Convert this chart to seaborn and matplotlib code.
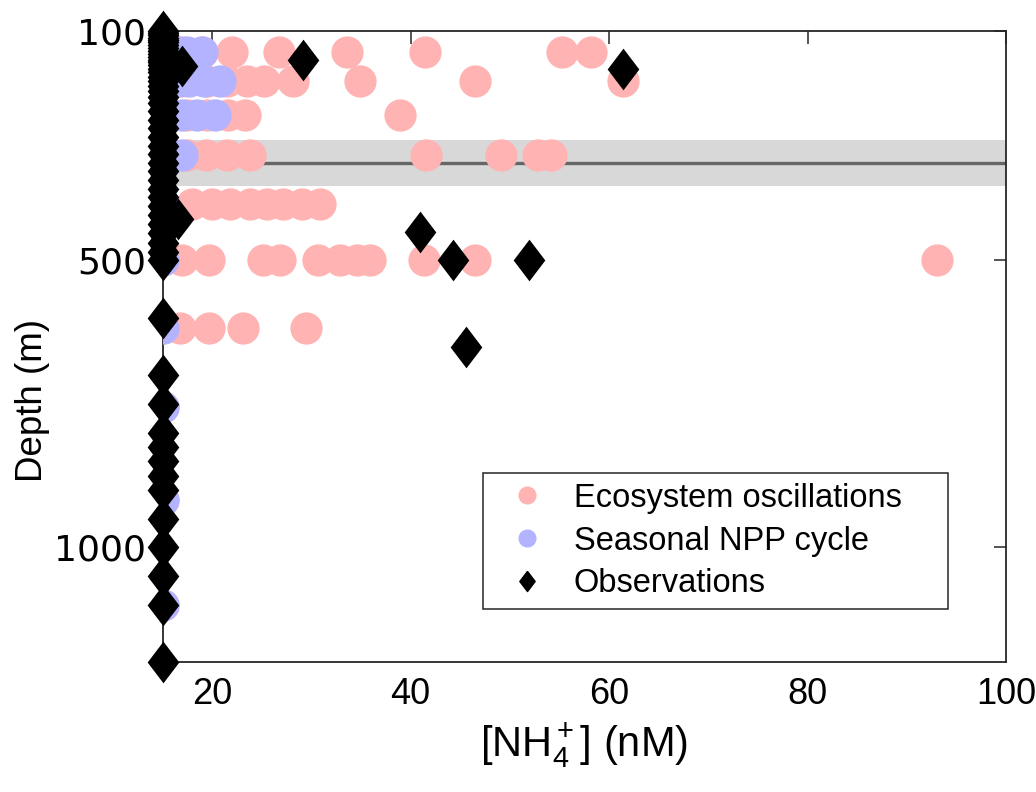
import numpy as np
import pandas as pd
import matplotlib
matplotlib.use("Agg")
import matplotlib.pyplot as plt
from matplotlib.lines import Line2D
import seaborn as sns

# Model output: ecosystem oscillations (pink), by depth level (m) -> [NH4+] (nM)
eco_depth = ([137] * 9 + [187] * 10 + [247] * 6 + [316] * 9 + [401] * 9
             + [500] * 12 + [618] * 5 + [755, 917, 1100])
eco_nh4 = ([15, 17, 19, 22.0, 26.7, 33.6, 41.4, 55.3, 58.2]
           + [15, 17, 19.5, 21.5, 23.5, 25.2, 28.1, 34.9, 46.5, 61.4]
           + [15, 17.5, 19.5, 21.6, 23.3, 38.9]
           + [15, 17.5, 19.4, 21.5, 23.8, 41.5, 49.1, 52.8, 54.1]
           + [15, 18, 20, 21.8, 23.8, 25.5, 27.1, 29, 30.9]
           + [15, 17, 19.7, 25.1, 26.8, 30.7, 32.9, 34.6, 35.9, 41.3, 46.5, 93.0]
           + [15, 16.7, 19.7, 23.1, 29.4]
           + [15, 15, 15])

# Model output: seasonal NPP cycle (blue)
npp_depth = ([137] * 4 + [187] * 5 + [247] * 4 + [316] * 2 + [401, 500]
             + [618, 755, 917, 1100])
npp_nh4 = ([15, 16.5, 17.5, 19]
           + [15, 16.5, 17.7, 19.2, 20.8]
           + [15, 17, 18.5, 20.3]
           + [15, 16.9] + [15, 15]
           + [15, 15, 15, 15])

# Observations (black diamonds)
obs_depth = [100, 104, 108, 112, 116, 120, 125, 130, 135, 140, 145, 150, 155,
             160, 166, 172, 180, 188, 196, 205, 215, 225, 240, 255, 270, 285,
             300, 315, 330, 345, 360, 375, 390, 405, 420, 437, 453, 470, 485,
             500, 600, 700, 750, 800, 825, 850, 875, 900, 950, 1000, 1050,
             1100, 1200,
             161, 151, 167, 427, 451, 500, 500, 651]
obs_nh4 = [15] * 53 + [17.0, 29.1, 61.4, 16.5, 40.9, 44.3, 51.9, 45.6]

# Shaded depth band and its centre line
band_depth = [290, 370]
band_mid = 330

x_ticks = [20, 40, 60, 80, 100]
y_ticks = [100, 500, 1000]

eco = pd.DataFrame({"nh4": eco_nh4, "depth": eco_depth})
npp = pd.DataFrame({"nh4": npp_nh4, "depth": npp_depth})
obs = pd.DataFrame({"nh4": obs_nh4, "depth": obs_depth})

sns.set_style("white")
plt.rcParams["font.family"] = ["Liberation Sans", "DejaVu Sans"]
plt.rcParams["mathtext.fontset"] = "custom"
plt.rcParams["mathtext.rm"] = "Liberation Sans"
plt.rcParams["mathtext.it"] = "Liberation Sans:italic"
for key in ["text.color", "axes.labelcolor", "xtick.labelcolor", "ytick.labelcolor"]:
    plt.rcParams[key] = "black"

pink = "#ffb3b3"
blue = "#b3b3ff"
edge = "#262626"
diamond = [(0, 1), (0.76, 0), (0, -1), (-0.76, 0), (0, 1)]

fig = plt.figure(figsize=(10.36, 7.92), dpi=100)
ax = fig.add_axes([0.157, 0.164, 0.814, 0.797])

ax.axhspan(band_depth[0], band_depth[1], color="#d8d8d8", lw=0, zorder=0)
ax.axhline(band_mid, color="#666666", lw=2.4, zorder=0.5)

sns.scatterplot(data=eco, x="nh4", y="depth", color=pink, s=540,
                linewidth=0, ax=ax, zorder=2)
sns.scatterplot(data=npp, x="nh4", y="depth", color=blue, s=540,
                linewidth=0, ax=ax, zorder=3)
sns.scatterplot(data=obs, x="nh4", y="depth", color="black", marker=diamond,
                s=900, linewidth=0, ax=ax, zorder=4, clip_on=False)

ax.set_xlim(15, 100)
ax.set_ylim(1200, 100)
ax.set_xticks(x_ticks, labels=[str(t) for t in x_ticks], fontsize=26)
ax.set_yticks(y_ticks, labels=[str(t) for t in y_ticks],
              fontfamily=["DejaVu Sans"], fontsize=26)
ax.tick_params(direction="in", length=9, width=1.1, color=edge,
               top=True, right=True)
ax.tick_params(axis="x", pad=11)
ax.tick_params(axis="y", pad=12)
for sp in ax.spines.values():
    sp.set_color(edge)
    sp.set_linewidth(1.3)

ax.set_xlabel("[NH$_4^+$] (nM)", fontsize=30, labelpad=6)
ax.set_ylabel("Depth (m)", fontsize=26.5)
ax.yaxis.set_label_coords(-0.133, 0.415)

handles = [
    Line2D([], [], marker="o", color=pink, ls="none", markersize=12),
    Line2D([], [], marker="o", color=blue, ls="none", markersize=12),
    Line2D([], [], marker=diamond, color="black", ls="none", markersize=14.5),
]
labels = ["Ecosystem oscillations", "Seasonal NPP cycle", "Observations"]
leg = ax.legend(handles, labels, loc="lower left",
                bbox_to_anchor=(0.3796, 0.084, 0.5516, 0.212), mode="expand",
                fontsize=23.5, frameon=True,
                fancybox=False, framealpha=1, edgecolor=edge,
                handletextpad=0.36, borderpad=0.3, labelspacing=0.36,
                borderaxespad=0, handlelength=2.12)
leg.get_frame().set_linewidth(1.1)

fig.savefig("out.png", dpi=100)
